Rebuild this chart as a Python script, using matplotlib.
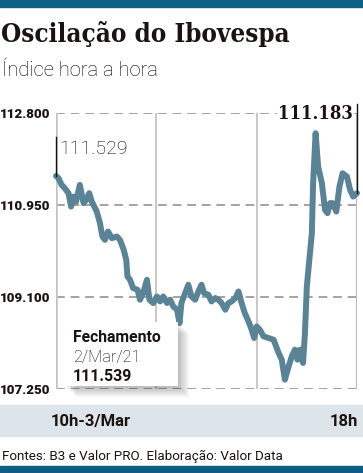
import matplotlib
matplotlib.use("Agg")
import matplotlib.pyplot as plt
from matplotlib.patches import Rectangle

# ---- data ----
minutos = [0, 4, 9, 14, 20, 24, 28, 32, 38, 44, 48, 53, 57, 65, 70, 74, 78, 83, 89, 97,
           102, 108, 112, 114, 118, 123, 130, 134, 139, 145, 149, 155, 161, 166, 171, 177,
           182, 187, 193, 197, 200, 206, 211, 216, 222, 227, 232, 236, 243, 248, 254, 259,
           264, 270, 275, 280, 286, 291, 296, 301, 307, 312, 316, 320, 325, 331, 339, 347,
           355, 360, 365, 371, 376, 381, 385, 389, 394, 397, 400, 404, 408, 410, 414, 418,
           424, 429, 433, 437, 441, 447, 452, 457, 464, 469, 474, 480]
ibovespa = [111529, 111484, 111350, 111283, 111183, 110914, 111115, 111015, 111350, 110983,
            111049, 111183, 111015, 110814, 110587, 110313, 110246, 110413, 110280, 110313,
            110246, 110046, 109845, 109510, 109444, 109277, 109243, 109043, 109177, 109444,
            109043, 108977, 109109, 109009, 109109, 108977, 109043, 108908, 108842, 108575,
            108977, 109177, 109344, 109109, 109043, 109209, 109344, 109177, 109143, 109009,
            109077, 109043, 108977, 108842, 108977, 109009, 109077, 109209, 108977, 108776,
            108607, 108441, 108274, 108507, 108441, 108307, 108274, 108240, 107974, 107839,
            107438, 107705, 107905, 108040, 107839, 108040, 107773, 108375, 109310, 109845,
            110381, 111384, 112387, 111717, 111384, 110848, 110782, 110983, 110983, 110814,
            111316, 111584, 111516, 111249, 111115, 111183]
y_ticks = [107250, 109100, 110950, 112800]
y_tick_labels = ["107.250", "109.100", "110.950", "112.800"]
x_labels = ["10h-3/Mar", "18h"]
abertura_label = "111.529"
ultimo_label = "111.183"
fech_titulo = "Fechamento"
fech_data = "2/Mar/21"
fech_valor = "111.539"

W, H = 363, 473
fig = plt.figure(figsize=(W / 100, H / 100), dpi=100)
fig.patch.set_facecolor("white")

def fx(x):
    return x / W

def fy(y):
    return 1 - y / H

BLUE = "#0d5f86"
LINE = "#5b8396"
GRID = "#a3a3a3"
SANS = "Roboto"
DARK = "#1a1311"

# top/bottom bars
fig.add_artist(Rectangle((0, fy(7)), 1, 7 / H, transform=fig.transFigure, color=BLUE, zorder=1))
fig.add_artist(Rectangle((0, 0), 1, 7 / H, transform=fig.transFigure, color=BLUE, zorder=1))

# x band
fig.add_artist(Rectangle((0, fy(436)), 1, 31 / H, transform=fig.transFigure,
                         color="#dde4ea", zorder=1))

fig.text(fx(1), fy(34), "Oscilação do Ibovespa", fontsize=18.6, fontweight="bold",
         family="DejaVu Serif", fontstretch="condensed", color=DARK, va="center", ha="left")
fig.text(fx(2), fy(70), "Índice hora a hora", fontsize=14.5, fontweight="light",
         family=SANS, color="#000000", va="center", ha="left")

# axes
ax = fig.add_axes([fx(56), fy(389), fx(357) - fx(56), (389 - 112.7) / H])
ax.set_xlim(0, 480)
ax.set_ylim(107250, 112800)
ax.set_facecolor("none")
for s in ax.spines.values():
    s.set_visible(False)
ax.set_xticks([])
ax.set_yticks(y_ticks)
ax.set_yticklabels(y_tick_labels, fontsize=9.6, fontweight="heavy", family=SANS, color=DARK)
ax.tick_params(axis="y", length=0, pad=4)

for v in y_ticks:
    ax.axhline(v, color=GRID, lw=1.4, ls=(0, (4.5, 3)), zorder=1)
ax.axvline(0, color="#c4c4c4", lw=2.6, zorder=1)
for v in [160, 320]:
    ax.axvline(v, color="#bdbdbd", lw=1.2, zorder=1)
ax.axvline(480, color="#bdbdbd", lw=1.6, zorder=1)

ax.plot(minutos, ibovespa, color=LINE, lw=4.3, solid_joinstyle="round",
        solid_capstyle="round", zorder=3, clip_on=False)

# annotation leader lines
ax.plot([minutos[0], minutos[0]], [ibovespa[0], ibovespa[0] + 790], color="#111111",
        lw=1.0, zorder=4, clip_on=False)
ax.plot([minutos[-1], minutos[-1]], [ibovespa[-1], ibovespa[-1] + 1790], color="#111111",
        lw=1.0, zorder=4, clip_on=False)

fig.text(fx(59), fy(149), abertura_label, fontsize=14, fontweight="light", family=SANS,
         color="#000000", va="center", ha="left")
fig.text(fx(353), fy(114), ultimo_label, fontsize=13.2, fontweight="bold",
         family="DejaVu Serif", fontstretch="condensed", color=DARK, va="center",
         ha="right", bbox=dict(facecolor="white", edgecolor="none", pad=1), zorder=6)

# closing box with shadow
bx0, by0, bx1, by1 = 65, 322, 178, 386
for i in range(7):
    off = 1.5 + i * 1.5
    fig.add_artist(Rectangle((fx(bx0 + off), fy(by1 + off)), (bx1 - bx0) / W, (by1 - by0) / H,
                             transform=fig.transFigure, facecolor="black", edgecolor="none",
                             alpha=0.04, zorder=5))
fig.add_artist(Rectangle((fx(bx0), fy(by1)), (bx1 - bx0) / W, (by1 - by0) / H,
                         transform=fig.transFigure, facecolor="white", edgecolor="none",
                         zorder=5.5))
fig.text(fx(73), fy(337), fech_titulo, fontsize=11.3, fontweight="bold", family=SANS,
         color=DARK, va="center", ha="left", zorder=6)
fig.text(fx(73), fy(357), fech_data, fontsize=11.8, fontweight="light", family=SANS,
         color="#000000", va="center", ha="left", zorder=6)
fig.text(fx(73), fy(376), fech_valor, fontsize=11.5, fontweight="bold", family=SANS,
         color=DARK, va="center", ha="left", zorder=6)

# x labels
fig.text(fx(91), fy(421), x_labels[0], fontsize=12, fontweight="bold", family=SANS,
         color=DARK, va="center", ha="center", zorder=3)
fig.text(fx(358), fy(421), x_labels[1], fontsize=12, fontweight="bold", family=SANS,
         color=DARK, va="center", ha="right", zorder=3)

fig.text(fx(2), fy(456), "Fontes: B3 e Valor PRO. Elaboração: Valor Data", fontsize=9.6,
         family=SANS, color=DARK, va="center", ha="left")

fig.savefig("out.png", dpi=100, facecolor="white")
